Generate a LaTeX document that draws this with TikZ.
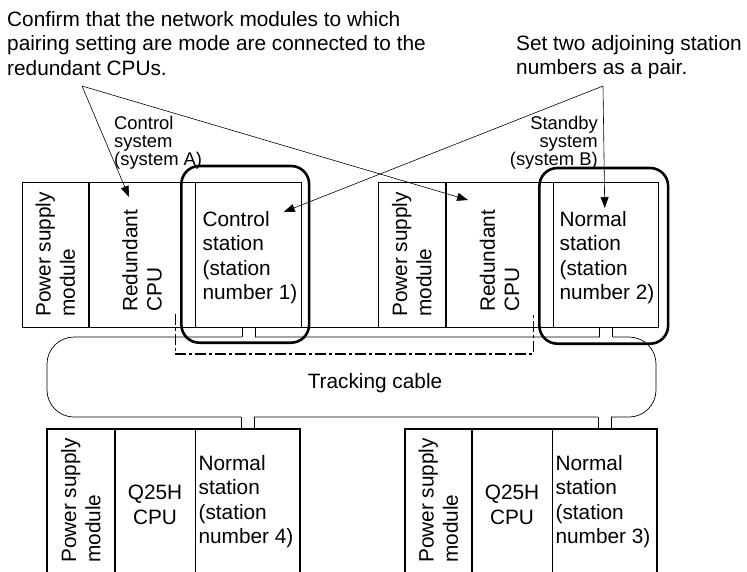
\documentclass[tikz,border=0pt]{standalone}
\usepackage{fontspec}
\setmainfont{Liberation Sans}
\usetikzlibrary{arrows.meta,positioning}

\tikzset{
  module/.style={draw, line width=0.7pt, inner sep=0pt, anchor=north west, minimum height=145pt},
  lowmodule/.style={draw, line width=0.7pt, inner sep=0pt, anchor=north west, minimum height=160pt},
  bigtext/.style={font=\fontsize{20.8}{24.4}\selectfont, inner sep=0pt},
  smalltext/.style={font=\fontsize{18.4}{18}\selectfont, inner sep=0pt},
  sidetext/.style={bigtext, rotate=90, align=left, anchor=west},
  pointer/.style={line width=0.6pt, -{Triangle[length=11pt,width=8pt]}},
  pairbox/.style={line width=2.6pt, rounded corners=18pt},
  cablebox/.style={draw, line width=0.7pt, rounded corners=27pt, minimum width=609pt, minimum height=80pt},
  trackline/.style={line width=1.6pt, dash pattern=on 11pt off 3pt on 3pt off 3pt},
}

\begin{document}
\begin{tikzpicture}[x=1pt,y=-1pt]
    \useasboundingbox (0,0) rectangle (747,571);
    \clip (0,0) rectangle (747,571);
    % Notes
    \node[bigtext, align=left, anchor=north west] (noteL) at (7,11)
        {Confirm that the network modules to which\\pairing setting are mode are connected to the\\redundant CPUs.};
    \node[bigtext, align=left, anchor=north west] (noteR) at (516,35)
        {Set two adjoining station\\numbers as a pair.};
    \coordinate (apexL) at (82,86);
    \coordinate (apexR) at (603,86);
    \node[smalltext, align=left, anchor=north west] (sysA) at (114,115.5) {Control\\system\\(system A)};
    \node[smalltext, align=right, anchor=north east] (sysB) at (598,115.5) {Standby\\system\\(system B)};

    % Tracking cable
    \node[cablebox] (cable) at (351.5,377) {};
    \node[bigtext] (trk) at (375,383) {Tracking cable};

    % Upper rack, system A
    \node[module, minimum width=66pt] (psA) at (22,182) {};
    \node[module, minimum width=106pt] (rcpuA) at (psA.north east) {};
    \node[module, minimum width=106pt] (stnA) at (rcpuA.north east) {};
    \node[sidetext] at ([yshift=-135pt]psA.north) {Power supply\\module};
    \node[sidetext] at ([yshift=-130pt]rcpuA.north) {Redundant\\CPU};
    \node[bigtext, align=left, anchor=north west] at ([shift={(7pt,-29pt)}]stnA.north west)
        {Control\\station\\(station\\number 1)};

    % Upper rack, system B
    \node[module, minimum width=67pt] (psB) at (378,182) {};
    \node[module, minimum width=107pt] (rcpuB) at (psB.north east) {};
    \node[module, minimum width=105pt] (stnB) at (rcpuB.north east) {};
    \node[sidetext] at ([yshift=-135pt]psB.north) {Power supply\\module};
    \node[sidetext] at ([yshift=-130pt]rcpuB.north) {Redundant\\CPU};
    \node[bigtext, align=left, anchor=north west] at ([shift={(6pt,-29pt)}]stnB.north west)
        {Normal\\station\\(station\\number 2)};
    \draw[line width=0.7pt] (stnA.south east) -- (psB.south west);

    % Lower rack, station 4
    \node[lowmodule, minimum width=67pt] (psC) at (47,429) {};
    \node[lowmodule, minimum width=80pt] (cpuC) at (psC.north east) {};
    \node[lowmodule, minimum width=104pt] (stnC) at (cpuC.north east) {};
    \draw[line width=1.5pt] (psC.north west) rectangle (stnC.south east);
    \node[sidetext] at ([yshift=-134pt]psC.north) {Power supply\\module};
    \node[bigtext, align=center] at ([yshift=-76pt]cpuC.north) {Q25H\\CPU};
    \node[bigtext, align=left, anchor=north west] at ([shift={(3pt,-26pt)}]stnC.north west)
        {Normal\\station\\(station\\number 4)};

    % Lower rack, station 3
    \node[lowmodule, minimum width=66pt] (psD) at (405,429) {};
    \node[lowmodule, minimum width=80pt] (cpuD) at (psD.north east) {};
    \node[lowmodule, minimum width=104pt] (stnD) at (cpuD.north east) {};
    \draw[line width=1.5pt] (psD.north west) rectangle (stnD.south east);
    \node[sidetext] at ([yshift=-134pt]psD.north) {Power supply\\module};
    \node[bigtext, align=center] at ([yshift=-76pt]cpuD.north) {Q25H\\CPU};
    \node[bigtext, align=left, anchor=north west] at ([shift={(3pt,-26pt)}]stnD.north west)
        {Normal\\station\\(station\\number 3)};

    % Stubs into the cable
    \foreach \m in {stnA,stnB} {
        \fill[white] ([shift={(-6.5pt,-0.6pt)}]\m.south) rectangle ([shift={(6.5pt,-11pt)}]\m.south);
        \draw[line width=0.7pt] ([xshift=-6.5pt]\m.south) -- ([xshift=-6.5pt]\m.south |- cable.north);
        \draw[line width=0.7pt] ([xshift=6.5pt]\m.south) -- ([xshift=6.5pt]\m.south |- cable.north);
    }
    \foreach \m in {stnC,stnD} {
        \fill[white] ([shift={(-6.5pt,0.6pt)}]\m.north) rectangle ([shift={(6.5pt,13pt)}]\m.north);
        \draw[line width=0.7pt] ([xshift=-6.5pt]\m.north) -- ([xshift=-6.5pt]\m.north |- cable.south);
        \draw[line width=0.7pt] ([xshift=6.5pt]\m.north) -- ([xshift=6.5pt]\m.north |- cable.south);
    }

    % Tracking path between the redundant CPUs
    \draw[trackline] ([shift={(-20pt,14pt)}]rcpuA.south east) -- ++(0,40)
        -| ([shift={(-20pt,14pt)}]rcpuB.south east);

    % Paired stations
    \draw[pairbox] ([shift={(-14pt,16pt)}]stnA.north west) rectangle ([shift={(7pt,-15pt)}]stnA.south east);
    \draw[pairbox] ([shift={(-14pt,14pt)}]stnB.north west) rectangle ([shift={(9pt,-16pt)}]stnB.south east);

    % Pointers
    \draw[pointer] (apexL) -- ([shift={(-13pt,-15pt)}]rcpuA.north);
    \draw[pointer] (apexL) -- ([shift={(-31.5pt,-18pt)}]rcpuB.north);
    \draw[pointer] (apexR) -- ([shift={(35pt,-30pt)}]stnA.north);
    \draw[pointer] (apexR) -- ([shift={(-1.5pt,-26pt)}]stnB.north);
\end{tikzpicture}
\end{document}
